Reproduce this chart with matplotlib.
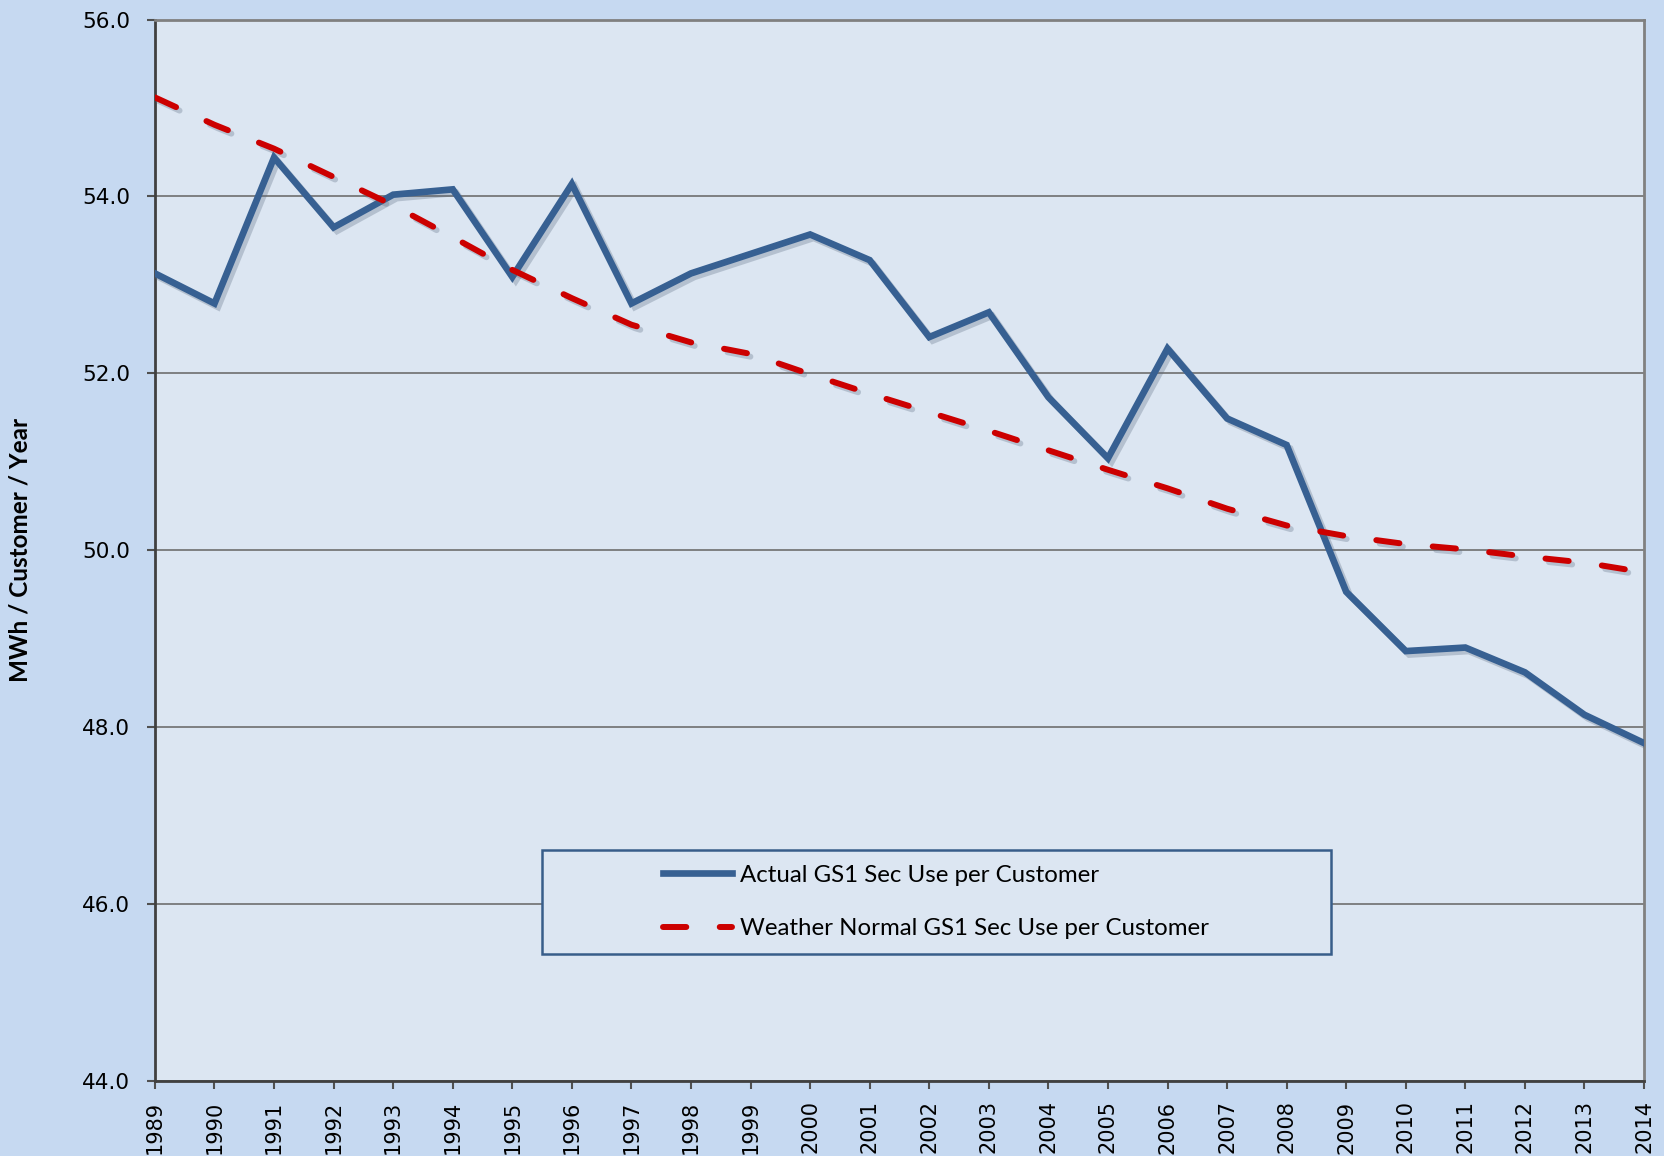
import matplotlib
matplotlib.use('Agg')
import matplotlib.pyplot as plt
import matplotlib.patheffects as pe
from matplotlib.patches import Rectangle

# data
years = list(range(1989, 2015))
actual = [53.13, 52.79, 54.44, 53.65, 54.02, 54.08, 53.09, 54.14, 52.79, 53.13,
          53.35, 53.57, 53.28, 52.41, 52.69, 51.73, 51.04, 52.28, 51.49, 51.19,
          49.53, 48.86, 48.90, 48.62, 48.14, 47.82]
weather_normal = [55.12, 54.81, 54.54, 54.22, 53.90, 53.54, 53.17, 52.85, 52.55, 52.35,
                  52.22, 51.99, 51.77, 51.56, 51.35, 51.13, 50.91, 50.70, 50.47, 50.28,
                  50.16, 50.07, 50.01, 49.93, 49.86, 49.75]
yticks = [44, 46, 48, 50, 52, 54, 56]

fig = plt.figure(figsize=(16.64, 11.56), dpi=100, facecolor='#C6D9F1')
ax = fig.add_axes([0.0931, 0.0649, 0.8949, 0.9182])
ax.set_facecolor('#DCE6F2')

shadow = [pe.SimpleLineShadow(offset=(2.5, -2.5), shadow_color='#5a6a80', alpha=0.3), pe.Normal()]

ax.plot(years, actual, color='#376092', lw=4.8, solid_joinstyle='miter',
        label='Actual GS1 Sec Use per Customer', path_effects=shadow, zorder=4)
ax.plot(years, weather_normal, color='#CC0000', lw=4.3, linestyle=(0, (3.9, 5.6)),
        dash_capstyle='round', label='Weather Normal GS1 Sec Use per Customer',
        path_effects=shadow, zorder=5)

ax.set_xlim(1989, 2014)
ax.set_ylim(44, 56)
ax.set_yticks(yticks)
ax.set_yticklabels(['%.1f' % v for v in yticks])
ax.set_xticks(years)
ax.set_xticklabels([str(y) for y in years], rotation=90)
ax.tick_params(axis='both', direction='out', length=6, width=1.5, color='#505050',
               labelsize=15, labelcolor='black')
ax.tick_params(axis='x', pad=8)
ax.tick_params(axis='y', pad=12, labelsize=15.5)

ax.grid(axis='y', color='#6e6e6e', lw=1.2)
ax.set_axisbelow(True)
for s in ['left', 'bottom']:
    ax.spines[s].set_color('#404040')
    ax.spines[s].set_linewidth(2)
for s in ['top', 'right']:
    ax.spines[s].set_color('#808080')
    ax.spines[s].set_linewidth(2)

ax.set_ylabel('MWh / Customer / Year', fontsize=17.5, fontweight='bold', family='Lato', labelpad=36)

# legend box
ax.add_patch(Rectangle((0.26, 0.1197), 0.53, 0.098, transform=ax.transAxes,
                       facecolor='#DCE6F2', edgecolor='#385D8A', lw=1.8, zorder=6))
leg = ax.legend(loc='center left', bbox_to_anchor=(0.341, 0.1687), frameon=False,
                prop={'family': 'Lato', 'size': 17.3}, handlelength=2.9, handletextpad=0.3,
                labelspacing=1.35, borderpad=0, borderaxespad=0)
leg.set_zorder(7)
for line in leg.get_lines():
    line.set_path_effects([])

plt.savefig('out.png', dpi=100, facecolor=fig.get_facecolor())
